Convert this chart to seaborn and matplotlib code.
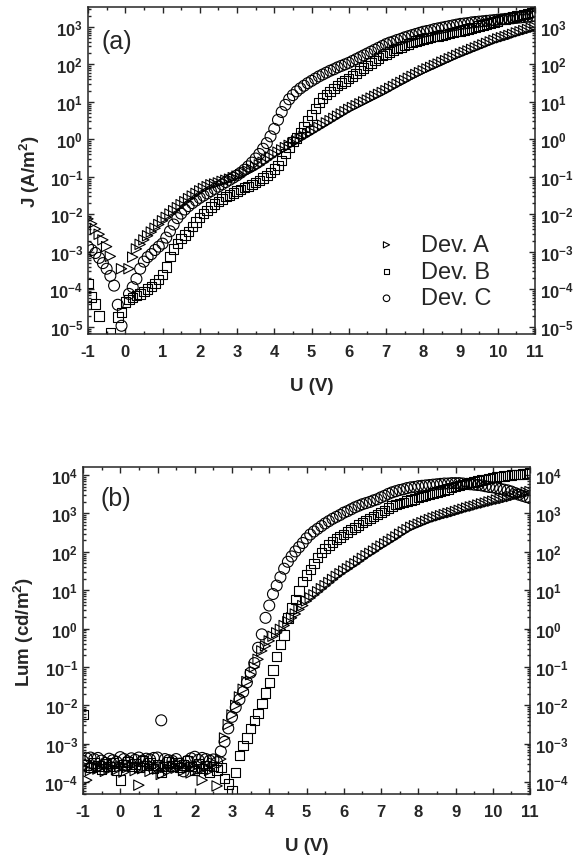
import numpy as np
import pandas as pd
import matplotlib
matplotlib.use("Agg")
import matplotlib.pyplot as plt
import matplotlib.ticker as mticker
import seaborn as sns

nan = np.nan

# voltage grid of the sweep, -1 V to 11 V in 0.1 V steps
U = np.round(np.linspace(-1.0, 11.0, 121), 1)

# ── (a) current density, log10 J (A/m^2) ─────────────────────────────────────
logJ_A = [
    -2.12, -2.25, -2.39, -2.53, -2.68, -2.86, -3.12, nan, nan, -3.45,
    nan, -3.45, -3.14, -2.92, -2.80, -2.68, -2.57, -2.47, -2.37, -2.27,
    -2.17, -2.08, -1.99, -1.90, -1.82, -1.74, -1.66, -1.58, -1.51, -1.44,
    -1.37, -1.31, -1.26, -1.21, -1.19, -1.16, -1.12, -1.09, -1.06, -1.02,
    -0.98, -0.94, -0.90, -0.85, -0.80, -0.74, -0.68, -0.61, -0.54, -0.47,
    -0.40, -0.34, -0.28, -0.22, -0.16, -0.10, -0.04, 0.02, 0.08, 0.14,
    0.20, 0.26, 0.32, 0.38, 0.44, 0.50, 0.56, 0.62, 0.68, 0.74,
    0.80, 0.85, 0.90, 0.95, 1.00, 1.05, 1.10, 1.15, 1.20, 1.25,
    1.30, 1.36, 1.41, 1.47, 1.52, 1.57, 1.63, 1.68, 1.73, 1.78,
    1.83, 1.88, 1.92, 1.97, 2.01, 2.06, 2.10, 2.15, 2.19, 2.24,
    2.28, 2.32, 2.36, 2.40, 2.44, 2.48, 2.52, 2.56, 2.60, 2.64,
    2.68, 2.71, 2.74, 2.77, 2.80, 2.84, 2.87, 2.90, 2.93, 2.96,
    2.99,
]
logJ_B = [
    -3.85, -4.20, -4.39, -4.71, nan, nan, -5.15, nan, -4.74, -4.61,
    -4.34, -4.27, -4.22, -4.17, -4.12, -4.06, -3.99, -3.92, -3.84, -3.74,
    -3.60, -3.40, -3.12, -2.92, -2.77, -2.65, -2.55, -2.45, -2.33, -2.20,
    -2.08, -1.98, -1.89, -1.80, -1.72, -1.65, -1.59, -1.53, -1.48, -1.43,
    -1.38, -1.33, -1.29, -1.25, -1.20, -1.15, -1.09, -1.03, -0.97, -0.88,
    -0.79, -0.69, -0.56, -0.38, -0.20, -0.06, 0.04, 0.17, 0.33, 0.49,
    0.65, 0.83, 0.98, 1.10, 1.20, 1.28, 1.36, 1.43, 1.50, 1.56,
    1.62, 1.69, 1.76, 1.83, 1.90, 1.97, 2.04, 2.10, 2.17, 2.23,
    2.28, 2.33, 2.38, 2.42, 2.46, 2.50, 2.54, 2.58, 2.62, 2.65,
    2.68, 2.70, 2.72, 2.74, 2.76, 2.78, 2.80, 2.83, 2.85, 2.87,
    2.89, 2.92, 2.94, 2.97, 2.99, 3.02, 3.05, 3.08, 3.10, 3.13,
    3.16, 3.19, 3.21, 3.24, 3.26, 3.29, 3.31, 3.33, 3.36, 3.38,
    3.40,
]
logJ_C = [
    -2.87, -2.95, -3.03, -3.16, -3.30, -3.45, -3.64, -3.90, -4.41, -4.97,
    nan, -4.12, -3.94, -3.72, -3.45, -3.26, -3.14, -3.06, -2.95, -2.86,
    -2.78, -2.62, -2.45, -2.27, -2.10, -1.98, -1.87, -1.78, -1.70, -1.63,
    -1.56, -1.50, -1.44, -1.38, -1.32, -1.26, -1.20, -1.14, -1.08, -1.02,
    -0.96, -0.89, -0.81, -0.72, -0.62, -0.51, -0.39, -0.25, -0.10, 0.08,
    0.28, 0.52, 0.73, 0.92, 1.07, 1.18, 1.28, 1.36, 1.43, 1.50,
    1.56, 1.62, 1.68, 1.73, 1.78, 1.83, 1.87, 1.92, 1.96, 2.00,
    2.04, 2.09, 2.14, 2.19, 2.24, 2.29, 2.34, 2.39, 2.44, 2.49,
    2.54, 2.58, 2.61, 2.65, 2.68, 2.72, 2.75, 2.78, 2.81, 2.84,
    2.87, 2.89, 2.91, 2.94, 2.96, 2.98, 3.00, 3.02, 3.04, 3.06,
    3.08, 3.09, 3.10, 3.12, 3.13, 3.14, 3.15, 3.16, 3.17, 3.18,
    3.19, 3.20, 3.21, 3.22, 3.23, 3.24, 3.25, 3.26, 3.27, 3.28,
    3.29,
]

# ── (b) luminance, log10 L (cd/m^2) ──────────────────────────────────────────
logL_A = [
    -3.62, -3.95, -3.70, -3.58, -3.66, -3.60, -3.72, -3.64, -3.55, -3.68,
    -3.60, -3.74, -3.62, -3.57, -3.70, -4.08, -3.65, -3.60, -3.72, -3.58,
    -3.66, -3.80, -3.62, -3.70, -3.58, -3.64, -3.55, -3.70, -3.62, -3.76,
    -3.60, -3.68, -3.95, -3.62, -3.70, -3.50, -4.10, -3.40, -2.85, -2.50,
    -2.25, -2.00, -1.78, -1.58, -1.38, -1.20, -1.00, -0.80, -0.58, -0.45,
    -0.32, -0.20, -0.11, -0.02, 0.08, 0.18, 0.28, 0.38, 0.50, 0.60,
    0.72, 0.80, 0.88, 0.96, 1.04, 1.12, 1.20, 1.28, 1.36, 1.43,
    1.50, 1.56, 1.63, 1.69, 1.76, 1.83, 1.90, 1.96, 2.02, 2.09,
    2.15, 2.21, 2.27, 2.33, 2.39, 2.46, 2.52, 2.58, 2.64, 2.68,
    2.72, 2.76, 2.80, 2.84, 2.88, 2.91, 2.94, 2.97, 3.00, 3.02,
    3.05, 3.08, 3.11, 3.14, 3.17, 3.19, 3.22, 3.25, 3.27, 3.30,
    3.32, 3.35, 3.37, 3.39, 3.42, 3.44, 3.47, 3.50, 3.52, 3.55,
    3.57,
]
logL_B = [
    -2.24, -3.55, -3.62, -3.50, -3.58, -3.66, -3.52, -3.60, -3.50, -3.70,
    -3.95, -3.55, -3.48, -3.60, -3.53, -3.62, -3.45, -3.57, -3.50, -3.64,
    -3.55, -3.75, -3.60, -3.48, -3.58, -3.50, -3.62, -3.55, -3.45, -3.60,
    -3.70, -3.52, -3.65, -3.56, -3.75, -3.60, -3.68, -3.62, -3.90, -4.05,
    -4.23, -3.75, -3.30, -3.05, -2.85, -2.60, -2.40, -2.22, -1.95, -1.68,
    -1.40, -1.08, -0.72, -0.42, -0.17, 0.28, 0.54, 0.76, 0.98, 1.22,
    1.40, 1.54, 1.69, 1.85, 1.98, 2.08, 2.18, 2.26, 2.33, 2.39,
    2.45, 2.52, 2.58, 2.64, 2.70, 2.76, 2.81, 2.87, 2.92, 2.97,
    3.02, 3.08, 3.14, 3.19, 3.23, 3.26, 3.29, 3.32, 3.35, 3.38,
    3.41, 3.44, 3.47, 3.50, 3.53, 3.56, 3.59, 3.61, 3.64, 3.67,
    3.70, 3.73, 3.75, 3.78, 3.80, 3.82, 3.85, 3.87, 3.89, 3.91,
    3.93, 3.95, 3.96, 3.98, 3.99, 4.00, 4.01, 4.02, 4.03, 4.04,
    4.05,
]
logL_C = [
    -3.45, -3.38, -3.36, -3.40, -3.37, -3.44, -3.50, -3.39, -3.43, -3.47,
    -3.35, -3.40, -3.46, -3.38, -3.42, -3.36, -3.44, -3.39, -3.41, -3.37,
    -3.36, -2.39, -3.40, -3.43, -3.45, -3.40, -3.52, -3.72, -3.45, -3.38,
    -3.34, -3.42, -3.37, -3.40, -3.44, -3.41, -3.48, -3.20, -2.95, -2.60,
    -2.30, -2.05, -1.85, -1.65, -1.40, -1.15, -0.90, -0.50, -0.15, 0.28,
    0.60, 0.90, 1.12, 1.34, 1.56, 1.74, 1.88, 2.01, 2.12, 2.23,
    2.35, 2.45, 2.53, 2.60, 2.67, 2.74, 2.80, 2.86, 2.91, 2.96,
    3.02, 3.06, 3.11, 3.16, 3.20, 3.24, 3.27, 3.30, 3.34, 3.37,
    3.42, 3.46, 3.51, 3.55, 3.58, 3.61, 3.63, 3.66, 3.68, 3.69,
    3.71, 3.72, 3.73, 3.74, 3.75, 3.76, 3.77, 3.78, 3.78, 3.79,
    3.79, 3.79, 3.78, 3.77, 3.76, 3.75, 3.74, 3.73, 3.71, 3.69,
    3.68, 3.66, 3.64, 3.62, 3.60, 3.57, 3.53, 3.49, 3.46, 3.43,
    3.40,
]

devices = ['Dev. A', 'Dev. B', 'Dev. C']
markers = {'Dev. A': '>', 'Dev. B': 's', 'Dev. C': 'o'}
sizes = {'Dev. A': 55, 'Dev. B': 46, 'Dev. C': 62}
x_ticks = list(range(-1, 12))


def long_table(series):
    rows = []
    for dev, vals in zip(devices, series):
        rows.append(pd.DataFrame({'U': U, 'val': 10.0 ** np.array(vals), 'device': dev}))
    return pd.concat(rows, ignore_index=True).dropna()


df_J = long_table([logJ_A, logJ_B, logJ_C])
df_L = long_table([logL_A, logL_B, logL_C])

# ── Style ────────────────────────────────────────────────────────────────────
sns.set_style('ticks')
plt.rcParams['font.family'] = ['Liberation Sans', 'DejaVu Sans']
plt.rcParams['mathtext.fontset'] = 'custom'
plt.rcParams['mathtext.rm'] = 'Liberation Sans'
plt.rcParams['mathtext.bf'] = 'Liberation Sans:bold'
plt.rcParams['axes.unicode_minus'] = False
plt.rcParams['axes.linewidth'] = 1.1

fig = plt.figure(figsize=(5.74, 8.62), dpi=100)
ax_a = fig.add_axes([88 / 574, 1 - 335 / 862, 447 / 574, 327 / 862])
ax_b = fig.add_axes([83 / 574, 1 - 795 / 862, 447 / 574, 327 / 862])


def decade_label(v, pos):
    return r'$\mathbf{10^{%d}}$' % int(round(np.log10(v)))


def style_axis(ax, ylims, ylabel, ylabelpad):
    ax.set_yscale('log')
    ax.set_xlim(-1, 11)
    ax.set_ylim(*ylims)
    ax.xaxis.set_major_locator(mticker.FixedLocator(x_ticks))
    ax.xaxis.set_minor_locator(mticker.FixedLocator([t + 0.5 for t in x_ticks[:-1]]))
    ax.yaxis.set_major_locator(mticker.LogLocator(base=10, numticks=30))
    ax.yaxis.set_minor_locator(mticker.LogLocator(base=10, subs=np.arange(2, 10), numticks=30))
    ax.yaxis.set_major_formatter(mticker.FuncFormatter(decade_label))
    ax.yaxis.set_minor_formatter(mticker.NullFormatter())
    ax.tick_params(which='both', direction='in', top=True, right=True,
                   labelright=True, width=1.0)
    ax.tick_params(which='major', length=4.5)
    ax.tick_params(axis='x', which='major', pad=7, labelsize=12)
    ax.tick_params(axis='y', which='major', pad=3.5, labelsize=12)
    ax.tick_params(which='minor', length=2.5)
    for lab in ax.get_xticklabels():
        lab.set_fontweight('bold')
    ax.set_xlabel('U (V)', fontsize=13.5, fontweight='bold', labelpad=13)
    ax.set_ylabel(ylabel, fontsize=13.5, fontweight='bold', labelpad=ylabelpad)


for ax, df, show_legend in [(ax_a, df_J, True), (ax_b, df_L, False)]:
    for dev in devices:
        sub = df[df['device'] == dev]
        sns.scatterplot(data=sub, x='U', y='val', marker=markers[dev], s=sizes[dev],
                        facecolors='none', edgecolor='black', linewidth=0.8,
                        label=dev if show_legend else None, ax=ax, legend=show_legend)

style_axis(ax_a, (10 ** -5.19, 10 ** 3.53), 'J (A/m$^\\mathbf{2}$)', 5)
style_axis(ax_b, (10 ** -4.31, 10 ** 4.21), 'Lum (cd/m$^\\mathbf{2}$)', 6)

ax_a.legend(loc='lower left', bbox_to_anchor=(0.615, 0.075), frameon=False,
            fontsize=17, markerscale=0.6, handletextpad=0.45, labelspacing=0.2,
            borderaxespad=0, borderpad=0)

ax_a.text(0.03, 0.895, '(a)', transform=ax_a.transAxes, fontsize=18, va='center')
ax_b.text(0.04, 0.905, '(b)', transform=ax_b.transAxes, fontsize=18, va='center')

fig.savefig('out.png', dpi=100)
